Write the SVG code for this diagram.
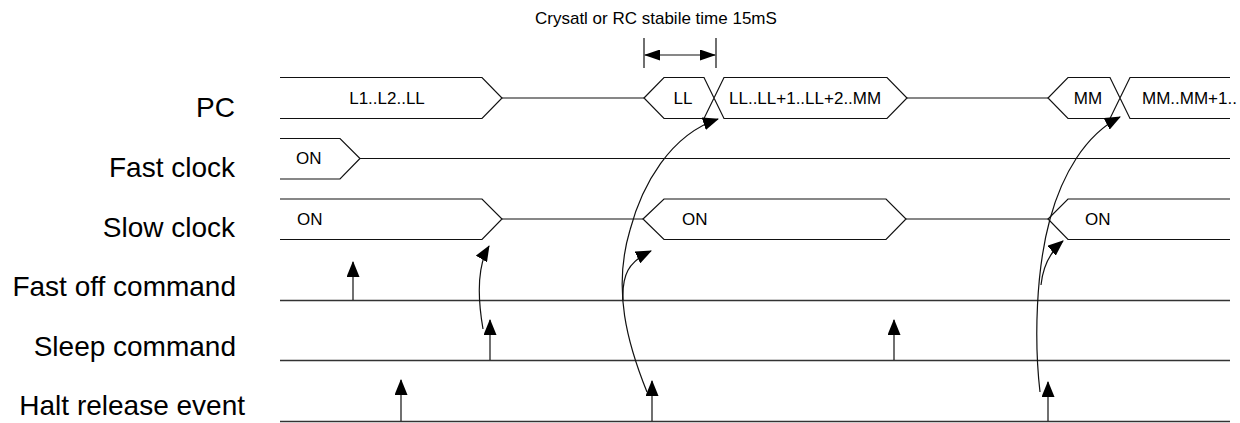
<svg xmlns="http://www.w3.org/2000/svg" width="1240" height="423" viewBox="0 0 1240 423">
<style>
.bus{fill:#fff;stroke:#111;stroke-width:1.2;stroke-linejoin:miter}
.wire{fill:none;stroke:#111;stroke-width:1.2}
.base{fill:none;stroke:#333;stroke-width:1.3}
.lbl{font-family:"Liberation Sans",Arial,sans-serif;font-size:28px;fill:#000;text-anchor:end}
.bt{font-family:"Liberation Sans",Arial,sans-serif;font-size:17px;fill:#000}
.ar{fill:none;stroke:#111;stroke-width:1.2}
</style>
<defs>
<marker id="ah" viewBox="0 0 16 13" refX="15" refY="6.5" markerWidth="16" markerHeight="13" markerUnits="userSpaceOnUse" orient="auto">
<path d="M0,0 L16,6.5 L0,13 Z" fill="#000"/>
</marker>
<marker id="dh" viewBox="0 0 16 11" refX="15" refY="5.5" markerWidth="16" markerHeight="11" markerUnits="userSpaceOnUse" orient="auto-start-reverse">
<path d="M0,0 L16,5.5 L0,11 Z" fill="#000"/>
</marker>
</defs>
<rect width="1240" height="423" fill="#fff"/>

<g id="labels">
<text class="lbl" x="235" y="117">PC</text>
<text class="lbl" x="235" y="177">Fast clock</text>
<text class="lbl" x="235" y="237">Slow clock</text>
<text class="lbl" x="236" y="296">Fast off command</text>
<text class="lbl" x="236" y="356">Sleep command</text>
<text class="lbl" x="245" y="415">Halt release event</text>
</g>

<g id="pc">
<path class="bus" d="M280,77.5 H482 L502,98 L482,118.5 H280"/>
<path class="wire" d="M502,98 H644"/>
<path class="bus" d="M644,98 L664,77.5 H704 L724,118.5 H887 L907,98 L887,77.5 H724 L704,118.5 H664 Z"/>
<path class="wire" d="M907,98 H1048"/>
<path class="bus" d="M1230,77.5 H1130 L1110,118.5 H1068 L1048,98 L1068,77.5 H1110 L1130,118.5 H1230"/>
<text class="bt" x="387" y="104" text-anchor="middle">L1..L2..LL</text>
<text class="bt" x="683" y="104" text-anchor="middle">LL</text>
<text class="bt" x="729" y="104">LL..LL+1..LL+2..MM</text>
<text class="bt" x="1088" y="104" text-anchor="middle">MM</text>
<text class="bt" x="1142" y="104">MM..MM+1..</text>
</g>

<g id="fast-clock">
<path class="bus" d="M280,138.5 H340 L360,158.5 L340,179 H280"/>
<path class="wire" d="M360,158.5 H1230"/>
<text class="bt" x="296" y="164">ON</text>
</g>

<g id="slow-clock">
<path class="bus" d="M280,199 H482 L502,219 L482,239.5 H280"/>
<path class="wire" d="M502,219 H643"/>
<path class="bus" d="M643,219 L664,199 H886 L906,219 L886,239.5 H664 Z"/>
<path class="wire" d="M906,219 H1048"/>
<path class="bus" d="M1230,199 H1068 L1048,219 L1068,239.5 H1230"/>
<text class="bt" x="297" y="225">ON</text>
<text class="bt" x="682" y="225">ON</text>
<text class="bt" x="1085" y="225">ON</text>
</g>

<g id="fast-off-command">
<path class="base" d="M280,300.5 H1230"/>
</g>
<g id="sleep-command">
<path class="base" d="M280,360.5 H1230"/>
</g>
<g id="halt-release-event">
<path class="base" d="M280,421.5 H1230"/>
</g>

<g id="stable-time">
<text class="bt" x="535" y="24">Crysatl or RC stabile time 15mS</text>
<path class="wire" d="M644,38 V68 M716,38 V68"/>
<path class="wire" d="M645,55 H715" marker-start="url(#dh)" marker-end="url(#dh)"/>
</g>

<g id="connectors">
<path class="ar" d="M353,300 V262" marker-end="url(#ah)"/>
<path class="ar" d="M490,360 V320" marker-end="url(#ah)"/>
<path class="ar" d="M894,360 V320" marker-end="url(#ah)"/>
<path class="ar" d="M401,421 V380" marker-end="url(#ah)"/>
<path class="ar" d="M652,421 V381" marker-end="url(#ah)"/>
<path class="ar" d="M1048,421 V382" marker-end="url(#ah)"/>
<path class="ar" d="M483,329 C478,300 476,268 489,246" marker-end="url(#ah)"/>
<path class="ar" d="M623,300 C622,275 628,262 651,251" marker-end="url(#ah)"/>
<path class="ar" d="M647,392 C628,345 612,290 630,230 C642,185 670,135 718,119" marker-end="url(#ah)"/>
<path class="ar" d="M1040,392 C1034,340 1036,270 1050,219 C1062,175 1085,135 1120,117" marker-end="url(#ah)"/>
<path class="ar" d="M1041,285 C1043,265 1050,252 1063,241" marker-end="url(#ah)"/>
</g>
</svg>
